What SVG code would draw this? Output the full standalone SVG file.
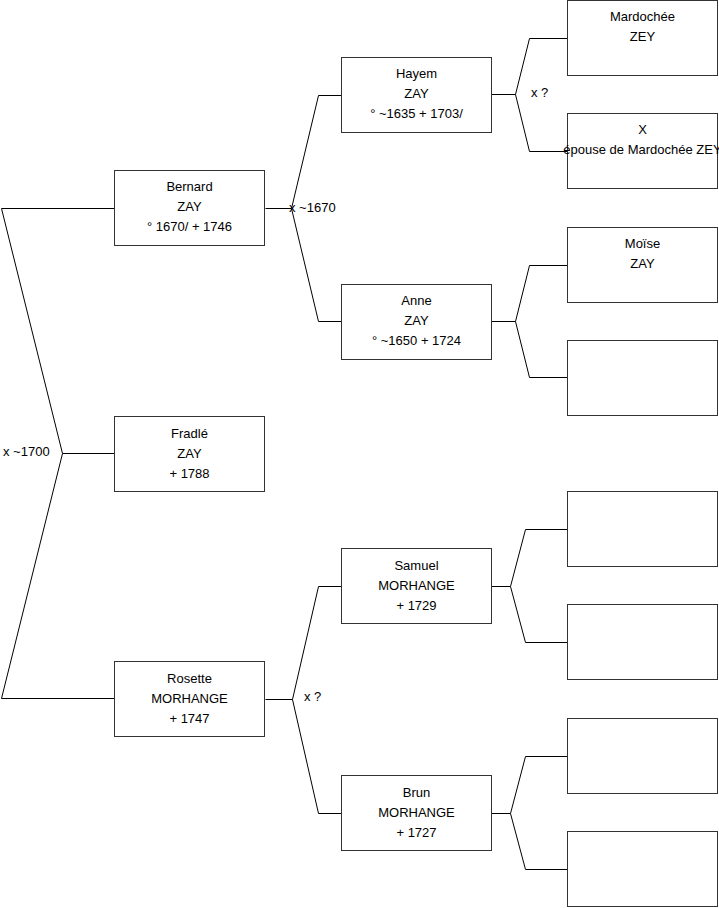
<svg xmlns="http://www.w3.org/2000/svg" width="719" height="908" viewBox="0 0 719 908">
<style>
.box{fill:#fff;stroke:#333;stroke-width:1}
.c{fill:none;stroke:#000;stroke-width:1}
text{font-family:"Liberation Sans",Arial,sans-serif;font-size:13px;fill:#000}
.t{text-anchor:middle}
</style>
<rect width="719" height="908" fill="#fff"/>
<g id="connectors">
<path class="c" d="M114.5,208.5H1.5L62.5,453.5L1.5,698.5H114.5M62.5,453.5H114.5"/>
<path class="c" d="M265.5,208.5H291.5L318.5,95.5H341.5M291.5,208.5L318.5,321.5H341.5"/>
<path class="c" d="M491.5,94.5H515.5L529.5,38.5H567.5M515.5,94.5L529.5,151.5H567.5"/>
<path class="c" d="M491.5,321.5H515.5L529.5,265.5H567.5M515.5,321.5L529.5,377.5H567.5"/>
<path class="c" d="M265.5,699.5H292.5L318.5,586.5H341.5M292.5,699.5L318.5,813.5H341.5"/>
<path class="c" d="M491.5,586.5H510.5L525.5,529.5H567.5M510.5,586.5L525.5,642.5H567.5"/>
<path class="c" d="M491.5,813.5H510.5L525.5,756.5H567.5M510.5,813.5L525.5,869.5H567.5"/>
<text x="289" y="212">x ~1670</text>
<text x="531" y="97">x ?</text>
<text x="3" y="456">x ~1700</text>
<text x="304" y="701">x ?</text>
</g>
<g id="bernard"><rect class="box" x="114.5" y="170.5" width="150" height="75"/>
<text class="t" x="189.5" y="190.5">Bernard</text><text class="t" x="189.5" y="210.5">ZAY</text><text class="t" x="189.5" y="230.5">° 1670/ + 1746</text></g>
<g id="fradle"><rect class="box" x="114.5" y="416.5" width="150" height="75"/>
<text class="t" x="189.5" y="437.5">Fradlé</text><text class="t" x="189.5" y="457.5">ZAY</text><text class="t" x="189.5" y="477.5"> + 1788</text></g>
<g id="rosette"><rect class="box" x="114.5" y="661.5" width="150" height="75"/>
<text class="t" x="189.5" y="682.5">Rosette</text><text class="t" x="189.5" y="702.5">MORHANGE</text><text class="t" x="189.5" y="722.5">+ 1747</text></g>
<g id="hayem"><rect class="box" x="341.5" y="57.5" width="150" height="75"/>
<text class="t" x="416.5" y="77.5">Hayem</text><text class="t" x="416.5" y="97.5">ZAY</text><text class="t" x="416.5" y="117.5">° ~1635 + 1703/</text></g>
<g id="anne"><rect class="box" x="341.5" y="284.5" width="150" height="75"/>
<text class="t" x="416.5" y="304.5">Anne</text><text class="t" x="416.5" y="324.5">ZAY</text><text class="t" x="416.5" y="344.5">° ~1650 + 1724</text></g>
<g id="samuel"><rect class="box" x="341.5" y="548.5" width="150" height="75"/>
<text class="t" x="416.5" y="569.5">Samuel</text><text class="t" x="416.5" y="589.5">MORHANGE</text><text class="t" x="416.5" y="609.5">+ 1729</text></g>
<g id="brun"><rect class="box" x="341.5" y="775.5" width="150" height="75"/>
<text class="t" x="416.5" y="796.5">Brun</text><text class="t" x="416.5" y="816.5">MORHANGE</text><text class="t" x="416.5" y="836.5">+ 1727</text></g>
<g id="mardochee"><rect class="box" x="567.5" y="0.5" width="150" height="75"/>
<text class="t" x="642.5" y="20.5">Mardochée</text><text class="t" x="642.5" y="40.5">ZEY</text></g>
<g id="x-epouse"><rect class="box" x="567.5" y="113.5" width="150" height="75"/>
<text class="t" x="642.5" y="133.5">X</text><text class="t" x="642.5" y="153.5">épouse de Mardochée ZEY</text></g>
<g id="moise"><rect class="box" x="567.5" y="227.5" width="150" height="75"/>
<text class="t" x="642.5" y="247.5">Moïse</text><text class="t" x="642.5" y="267.5">ZAY</text></g>
<g id="empty1"><rect class="box" x="567.5" y="340.5" width="150" height="75"/></g>
<g id="empty2"><rect class="box" x="567.5" y="491.5" width="150" height="75"/></g>
<g id="empty3"><rect class="box" x="567.5" y="604.5" width="150" height="75"/></g>
<g id="empty4"><rect class="box" x="567.5" y="718.5" width="150" height="75"/></g>
<g id="empty5"><rect class="box" x="567.5" y="831.5" width="150" height="75"/></g>
</svg>
